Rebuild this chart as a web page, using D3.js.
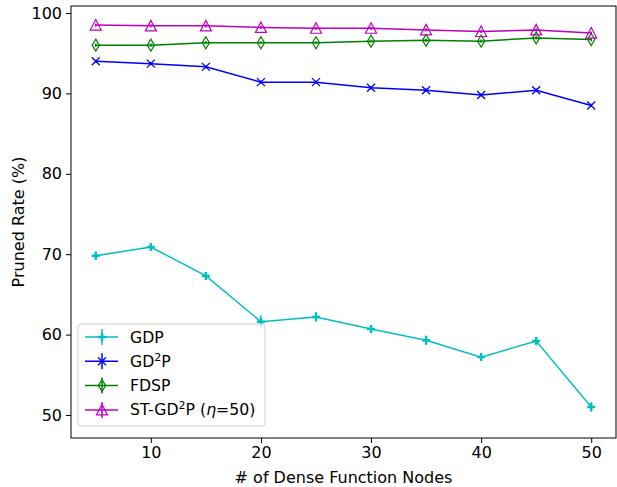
<!DOCTYPE html>
<html lang="en">
<head>
<meta charset="utf-8">
<title>pruned rate</title>
<script src="https://cdn.jsdelivr.net/npm/d3@7/dist/d3.min.js"></script>
<style>
  body { margin: 0; background: #fff; }
  text { font-family: "DejaVu Sans", sans-serif; }
</style>
</head>
<body>
<script>
  // data
  var nodes = [5, 10, 15, 20, 25, 30, 35, 40, 45, 50];
  var gdp = [69.8, 70.9, 67.3, 61.6, 62.2, 60.7, 59.3, 57.2, 59.2, 51.0];
  var gdpErr = [0.5, 0.3, 0.5, 0.8, 0.6, 0.3, 0.6, 0.3, 0.4, 0.6];
  var gd2p = [94.0, 93.7, 93.3, 91.4, 91.4, 90.7, 90.4, 89.8, 90.4, 88.5];
  var gd2pErr = [0.2, 0.2, 0.2, 0.2, 0.2, 0.2, 0.2, 0.2, 0.2, 0.2];
  var fdsp = [96.0, 96.0, 96.3, 96.3, 96.3, 96.5, 96.6, 96.5, 96.9, 96.7];
  var fdspErr = [0.2, 0.2, 0.2, 0.2, 0.2, 0.2, 0.2, 0.2, 0.2, 0.2];
  var stgd2p = [98.5, 98.4, 98.4, 98.2, 98.1, 98.1, 97.9, 97.7, 97.9, 97.5];
  var stgd2pErr = [0.2, 0.2, 0.2, 0.2, 0.2, 0.2, 0.2, 0.2, 0.2, 0.2];
  var xTicks = [10, 20, 30, 40, 50];
  var yTicks = [50, 60, 70, 80, 90, 100];

  var series = [
    { name: 'GDP', vals: gdp, err: gdpErr, color: '#00bfbf', marker: 'plus' },
    { name: 'GD2P', vals: gd2p, err: gd2pErr, color: '#0000ff', marker: 'x' },
    { name: 'FDSP', vals: fdsp, err: fdspErr, color: '#008000', marker: 'diamond' },
    { name: 'ST-GD2P', vals: stgd2p, err: stgd2pErr, color: '#bf00bf', marker: 'tri' }
  ];

  var W = 617, H = 487;
  var mLeft = 71, mRight = 616, mTop = 6, mBottom = 438;
  var fs = '16px';

  var svg = d3.select('body').append('svg')
    .attr('width', W).attr('height', H);

  var x = d3.scaleLinear().domain([2.75, 52.25]).range([mLeft, mRight]);
  var y = d3.scaleLinear().domain([47.14, 100.87]).range([mBottom, mTop]);

  // axes
  var xAxis = d3.axisBottom(x).tickValues(xTicks).tickSize(5).tickPadding(4).tickFormat(d3.format('d'));
  var yAxis = d3.axisLeft(y).tickValues(yTicks).tickSize(5).tickPadding(4).tickFormat(d3.format('d'));

  var gx = svg.append('g').attr('transform', 'translate(0,' + mBottom + ')').call(xAxis);
  var gy = svg.append('g').attr('transform', 'translate(' + mLeft + ',0)').call(yAxis);
  [gx, gy].forEach(function (g) {
    g.select('.domain').remove();
    g.selectAll('line').attr('stroke', '#000').attr('stroke-width', 1);
    g.selectAll('text').style('font-size', fs).attr('fill', '#000');
  });

  // markers
  function drawMarker(g, type, cx, cy, color) {
    if (type === 'plus') {
      g.append('path').attr('d', 'M' + (cx - 4) + ',' + cy + 'H' + (cx + 4) + 'M' + cx + ',' + (cy - 4) + 'V' + (cy + 4))
        .attr('stroke', color).attr('stroke-width', 2.5).attr('fill', 'none');
    } else if (type === 'x') {
      g.append('path').attr('d', 'M' + (cx - 4) + ',' + (cy - 4) + 'L' + (cx + 4) + ',' + (cy + 4) + 'M' + (cx - 4) + ',' + (cy + 4) + 'L' + (cx + 4) + ',' + (cy - 4))
        .attr('stroke', color).attr('stroke-width', 1.3).attr('fill', 'none');
    } else if (type === 'diamond') {
      g.append('path').attr('d', 'M' + cx + ',' + (cy - 6) + 'L' + (cx + 3.6) + ',' + cy + 'L' + cx + ',' + (cy + 6) + 'L' + (cx - 3.6) + ',' + cy + 'Z')
        .attr('stroke', color).attr('stroke-width', 1.2).attr('fill', 'none');
    } else {
      g.append('path').attr('d', 'M' + cx + ',' + (cy - 5.5) + 'L' + (cx + 5.5) + ',' + (cy + 5) + 'L' + (cx - 5.5) + ',' + (cy + 5) + 'Z')
        .attr('stroke', color).attr('stroke-width', 1.2).attr('fill', 'none');
    }
  }

  var line = d3.line().x(function (d) { return x(d.x); }).y(function (d) { return y(d.y); });

  series.forEach(function (s) {
    var pts = nodes.map(function (n, i) { return { x: n, y: s.vals[i], e: s.err[i] }; });
    var g = svg.append('g');
    g.append('path').attr('d', line(pts))
      .attr('fill', 'none').attr('stroke', s.color).attr('stroke-width', 1.5);
    pts.forEach(function (p) {
      g.append('line')
        .attr('x1', x(p.x)).attr('x2', x(p.x))
        .attr('y1', y(p.y - p.e)).attr('y2', y(p.y + p.e))
        .attr('stroke', s.color).attr('stroke-width', 1.5);
      drawMarker(g, s.marker, x(p.x), y(p.y), s.color);
    });
  });

  // frame
  svg.append('rect').attr('x', mLeft).attr('y', mTop)
    .attr('width', mRight - mLeft).attr('height', mBottom - mTop)
    .attr('fill', 'none').attr('stroke', '#000').attr('stroke-width', 1);

  // labels
  svg.append('text').attr('x', (mLeft + mRight) / 2).attr('y', 483)
    .attr('text-anchor', 'middle').style('font-size', fs)
    .text('# of Dense Function Nodes');
  svg.append('text').attr('transform', 'translate(24,' + ((mTop + mBottom) / 2) + ') rotate(-90)')
    .attr('text-anchor', 'middle').style('font-size', fs)
    .text('Pruned Rate (%)');

  // legend
  var lg = svg.append('g').attr('transform', 'translate(78,324)');
  lg.append('rect').attr('width', 187).attr('height', 102).attr('rx', 3)
    .attr('fill', 'rgba(255,255,255,0.8)').attr('stroke', '#ccc');
  series.forEach(function (s, i) {
    var cy = 13 + i * 24.3;
    var row = lg.append('g');
    row.append('line').attr('x1', 7).attr('x2', 40).attr('y1', cy).attr('y2', cy)
      .attr('stroke', s.color).attr('stroke-width', 1.5);
    row.append('line').attr('x1', 24).attr('x2', 24).attr('y1', cy - 8).attr('y2', cy + 8)
      .attr('stroke', s.color).attr('stroke-width', 1.5);
    drawMarker(row, s.marker, 24, cy, s.color);
    var t = row.append('text').attr('x', 52).attr('y', cy + 5.5).style('font-size', '15.7px');
    if (s.name === 'GD2P' || s.name === 'ST-GD2P') {
      t.append('tspan').text(s.name === 'GD2P' ? 'GD' : 'ST-GD');
      t.append('tspan').attr('dy', -6).style('font-size', '11px').text('2');
      t.append('tspan').attr('dy', 6).text('P');
      if (s.name === 'ST-GD2P') {
        t.append('tspan').text(' (');
        t.append('tspan').style('font-style', 'italic').text('η');
        t.append('tspan').text('=50)');
      }
    } else {
      t.text(s.name);
    }
  });
</script>
</body>
</html>
